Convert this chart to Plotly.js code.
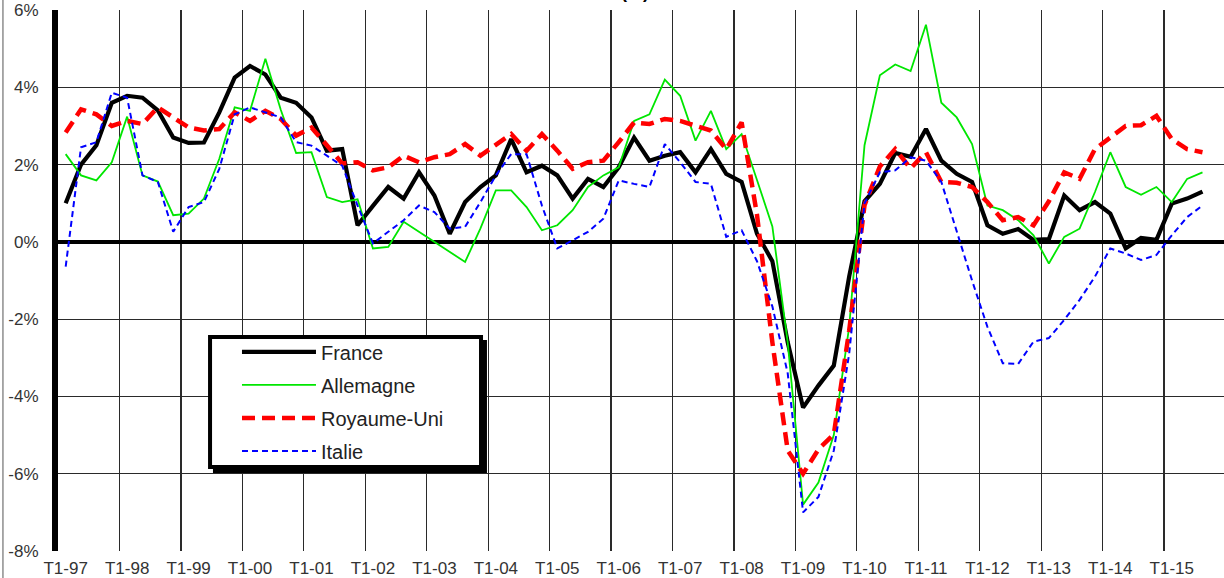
<!DOCTYPE html>
<html><head><meta charset="utf-8">
<script src="https://cdn.plot.ly/plotly-3.0.1.min.js"></script>
<style>html,body{margin:0;padding:0;background:#fff}#chart{width:1224px;height:578px}</style>
</head><body><div id="chart"></div>
<script>
const years = ["97","98","99","00","01","02","03","04","05","06","07","08","09","10","11","12","13","14","15"];
const quarterNames = ["T1","T2","T3","T4"];
const quarters = [];
years.forEach(y => quarterNames.forEach(q => quarters.push(q + "-" + y)));
const periods = quarters.slice(0, 75); // T1-97 .. T3-15

const tickLabels = ["T1-97","T1-98","T1-99","T1-00","T1-01","T1-02","T1-03","T1-04","T1-05","T1-06","T1-07","T1-08","T1-09","T1-10","T1-11","T1-12","T1-13","T1-14","T1-15"];
const yTickVals = [-8,-6,-4,-2,0,2,4,6];
const yTickText = ["-8%","-6%","-4%","-2%","0%","2%","4%","6%"];

const france = [1.0,2.0,2.5,3.6,3.78,3.73,3.4,2.7,2.56,2.57,3.35,4.25,4.55,4.33,3.73,3.6,3.22,2.36,2.4,0.43,
0.93,1.42,1.12,1.8,1.2,0.21,1.03,1.42,1.72,2.66,1.8,1.97,1.72,1.12,1.63,1.42,1.93,2.7,2.1,2.23,
2.32,1.8,2.4,1.76,1.55,0.21,-0.5,-2.6,-4.29,-3.72,-3.2,-0.9,1.05,1.5,2.3,2.2,2.92,2.1,1.76,1.55,
0.43,0.21,0.33,0.05,0.07,1.2,0.82,1.03,0.73,-0.17,0.1,0.05,0.99,1.12,1.3];
const allemagne = [2.27,1.72,1.59,2.06,3.24,1.72,1.56,0.69,0.73,1.12,2.15,3.48,3.39,4.74,3.42,2.3,2.32,1.16,1.03,1.1,
-0.17,-0.13,0.52,0.26,0.0,-0.27,-0.52,0.35,1.33,1.33,0.9,0.3,0.43,0.82,1.42,1.72,1.93,3.13,3.3,4.2,
3.78,2.62,3.39,2.4,2.79,1.6,0.4,-2.6,-6.8,-6.23,-5.0,-2.2,2.5,4.31,4.59,4.42,5.62,3.6,3.22,2.53,
0.94,0.82,0.56,0.17,-0.56,0.13,0.34,1.29,2.32,1.42,1.22,1.42,1.03,1.63,1.8];
const royaumeUni = [2.83,3.43,3.3,3.0,3.13,3.05,3.48,3.22,2.96,2.88,2.92,3.35,3.13,3.39,3.18,2.75,2.96,2.5,2.03,2.06,
1.85,1.93,2.23,2.06,2.19,2.27,2.53,2.23,2.5,2.79,2.36,2.79,2.36,1.89,2.06,2.1,2.58,3.09,3.05,3.18,
3.13,3.0,2.88,2.4,3.09,0.7,-2.6,-5.4,-6.0,-5.37,-4.98,-2.3,0.95,1.95,2.4,1.9,2.32,1.55,1.53,1.42,
1.03,0.56,0.64,0.43,1.05,1.8,1.63,2.4,2.7,3.0,3.02,3.26,2.66,2.4,2.32];
const italie = [-0.64,2.45,2.58,3.86,3.73,1.72,1.55,0.26,0.9,1.03,1.89,3.3,3.48,3.35,3.22,2.58,2.49,2.23,1.97,0.94,
-0.04,0.26,0.56,0.94,0.77,0.34,0.39,1.03,1.72,2.27,2.27,0.94,-0.17,0.04,0.26,0.6,1.59,1.5,1.42,2.53,
2.06,1.55,1.5,0.13,0.3,-0.5,-1.67,-3.4,-7.0,-6.6,-5.4,-2.9,1.0,1.8,1.85,2.19,2.1,1.55,0.26,-1.0,
-2.2,-3.14,-3.16,-2.58,-2.49,-2.02,-1.5,-0.9,-0.17,-0.3,-0.47,-0.34,0.17,0.64,0.94];

const FONT = "Liberation Sans, Arial, sans-serif";

const traces = [
  {name:"France", y:france, line:{color:"#000000", width:4.2}, legendgroup:"a"},
  {name:"Allemagne", y:allemagne, line:{color:"#00e600", width:1.8}, legendgroup:"b"},
  {name:"Royaume-Uni", y:royaumeUni, line:{color:"#ff0000", width:4.5, dash:"13px,7px"}, legendgroup:"c"},
  {name:"Italie", y:italie, line:{color:"#0000ff", width:2, dash:"6px,4px"}, legendgroup:"d"}
].map(t => Object.assign({type:"scatter", mode:"lines", x:periods, hoverinfo:"name+y"}, t));

const layout = {
  width:1224, height:578,
  margin:{l:58, r:0, t:10, b:27},
  paper_bgcolor:"#fff", plot_bgcolor:"#fff",
  font:{family:FONT, color:"#333", size:17},
  showlegend:true,
  xaxis:{
    type:"category", categoryorder:"array", categoryarray:quarters,
    range:[-0.5, 75.4], tickmode:"linear", tick0:0, dtick:4, tickson:"boundaries",
    tickangle:0, automargin:false,
    showgrid:true, gridcolor:"#2a2a2a", gridwidth:1.2,
    ticks:"", showline:false, zeroline:false,
    tickfont:{family:FONT, size:17, color:"#333"}, ticklabelstandoff:5
  },
  xaxis2:{
    type:"category", categoryorder:"array", categoryarray:quarters,
    overlaying:"x", anchor:"free", position:8/14,
    range:[-0.5, 75.4], tickmode:"linear", tick0:0, dtick:4, tickson:"boundaries",
    showgrid:false, showticklabels:false, ticks:"inside", ticklen:5, tickwidth:2, tickcolor:"#000",
    showline:false, zeroline:false
  },
  yaxis:{
    range:[-8, 6], tickmode:"array", tickvals:yTickVals, ticktext:yTickText,
    showgrid:true, gridcolor:"#2a2a2a", gridwidth:1.2,
    zeroline:true, zerolinecolor:"#000", zerolinewidth:4,
    showline:true, linecolor:"#000", linewidth:6, automargin:false,
    ticks:"", tickfont:{family:FONT, size:17, color:"#333"}, ticklabelstandoff:10
  },
  legend:{
    x:0.1535, y:0.404, xanchor:"left", yanchor:"top",
    bgcolor:"rgba(0,0,0,0)", borderwidth:0,
    font:{family:FONT, size:20, color:"#222"},
    itemwidth:74, tracegroupgap:4, traceorder:"grouped"
  },
  shapes:[
    {type:"rect", xref:"paper", yref:"paper", x0:0.1329, x1:0.3679, y0:0.1442, y1:0.390,
     fillcolor:"#000", line:{width:0}, layer:"above"},
    {type:"rect", xref:"paper", yref:"paper", x0:0.1304, x1:0.3628, y0:0.1553, y1:0.3956,
     fillcolor:"#fff", line:{color:"#000", width:4}, layer:"above"},
    {type:"line", xref:"paper", yref:"paper", x0:-0.0472, x1:-0.0472, y0:-0.06, y1:1.03,
     line:{color:"#555", width:1}}
  ],
  annotations:[
    {text:"<b>(%)</b>", xref:"paper", yref:"paper", x:0.495, y:1.012, xanchor:"center", yanchor:"bottom",
     showarrow:false, font:{family:FONT, size:18, color:"#000"}}
  ]
};

Plotly.newPlot("chart", traces, layout, {displayModeBar:false, staticPlot:true});
</script></body></html>
